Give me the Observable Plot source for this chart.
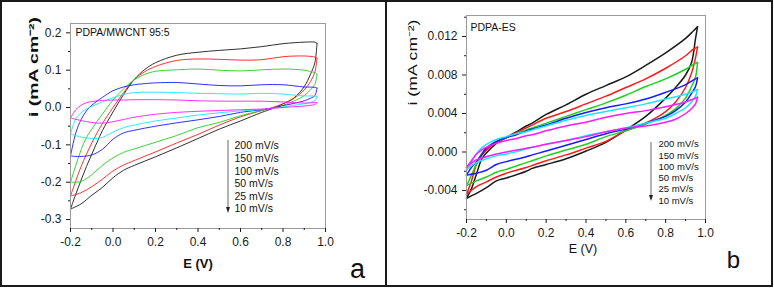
<!DOCTYPE html>
<html>
<head>
<meta charset="utf-8">
<script src="https://cdn.jsdelivr.net/npm/d3@7"></script>
<script src="https://cdn.jsdelivr.net/npm/@observablehq/plot@0.6"></script>
<style>
  html, body { margin: 0; padding: 0; background: #fff; }
  #root { position: relative; width: 774px; height: 288px; overflow: hidden; background: #fff;
          font-family: "Liberation Sans", Arial, sans-serif; }
  .box { position: absolute; box-sizing: border-box; border: 2px solid #1a1a1a; }
  .chart { position: absolute; top: 0; }
  .deco { position: absolute; top: 0; left: 0; pointer-events: none; }
</style>
</head>
<body>
<div id="root">
  <div class="box" style="left:0;top:0;width:387px;height:287px"></div>
  <div class="box" style="left:385px;top:0;width:388px;height:287px"></div>
</div>
<script>
// ---------- shared ----------
const scanRates = ["200 mV/s", "150 mV/s", "100 mV/s", "50 mV/s", "25 mV/s", "10 mV/s"];
const curveColors = ["#1a1a1a", "#ff1a1a", "#1fd11f", "#1a1aff", "#1ae6ff", "#ff1aff"];
const xMajorTicks = [-0.2, 0, 0.2, 0.4, 0.6, 0.8, 1.0];
const xMinorTicks = [-0.1, 0.1, 0.3, 0.5, 0.7, 0.9];
const xAxisTitle = "E (V)";
const yAxisTitle = "i (mA cm\u207B\u00B2)";

// ---------- panel a: PDPA/MWCNT 95:5 ----------
const titleA = "PDPA/MWCNT 95:5";
const panelLabelA = "a";
const yTicksA = [-0.3, -0.2, -0.1, 0, 0.1, 0.2];
const yMinorA = [-0.25, -0.15, -0.05, 0.05, 0.15];
const forwardEA = [-0.2, -0.175, -0.15, -0.125, -0.1, -0.075, -0.05, 0, 0.05, 0.1, 0.15, 0.2, 0.3, 0.4, 0.5, 0.6, 0.7, 0.8, 0.9, 0.95, 0.96];
const reverseEA = [0.96, 0.95, 0.93, 0.9, 0.85, 0.8, 0.75, 0.7, 0.6, 0.5, 0.4, 0.3, 0.2, 0.1, 0.05, 0, -0.05, -0.1, -0.15, -0.2];
const a200Fwd = [-0.272, -0.232, -0.194, -0.158, -0.125, -0.093, -0.062, -0.012, 0.035, 0.075, 0.102, 0.12, 0.14, 0.148, 0.153, 0.157, 0.163, 0.171, 0.175, 0.175, 0.172];
const a150Fwd = [-0.237, -0.196, -0.158, -0.125, -0.095, -0.068, -0.043, 0.0, 0.04, 0.075, 0.096, 0.11, 0.126, 0.13, 0.129, 0.127, 0.128, 0.136, 0.138, 0.135, 0.132];
const a100Fwd = [-0.2, -0.155, -0.113, -0.08, -0.058, -0.037, -0.018, 0.02, 0.05, 0.074, 0.089, 0.097, 0.101, 0.103, 0.1, 0.098, 0.101, 0.103, 0.1, 0.093, 0.089];
const a50Fwd  = [-0.13, -0.068, -0.032, -0.009, 0.006, 0.017, 0.027, 0.045, 0.055, 0.061, 0.064, 0.066, 0.067, 0.063, 0.059, 0.058, 0.061, 0.061, 0.055, 0.054, 0.052];
const a25Fwd  = [-0.071, -0.03, -0.014, -0.004, 0.003, 0.009, 0.015, 0.026, 0.035, 0.04, 0.041, 0.041, 0.04, 0.038, 0.037, 0.036, 0.038, 0.036, 0.031, 0.031, 0.03];
const a10Fwd  = [-0.028, -0.006, 0.006, 0.013, 0.016, 0.018, 0.019, 0.02, 0.02, 0.021, 0.021, 0.021, 0.02, 0.018, 0.017, 0.017, 0.017, 0.015, 0.012, 0.013, 0.013];
const a200Rev = [0.172, 0.12, 0.09, 0.056, 0.025, 0.01, -0.003, -0.013, -0.036, -0.058, -0.083, -0.108, -0.132, -0.155, -0.168, -0.188, -0.214, -0.235, -0.258, -0.272];
const a150Rev = [0.132, 0.095, 0.07, 0.047, 0.024, 0.01, 0.0, -0.008, -0.025, -0.047, -0.072, -0.095, -0.119, -0.142, -0.154, -0.17, -0.192, -0.212, -0.228, -0.237];
const a100Rev = [0.089, 0.062, 0.048, 0.032, 0.017, 0.006, -0.002, -0.008, -0.022, -0.04, -0.054, -0.075, -0.093, -0.111, -0.12, -0.135, -0.155, -0.18, -0.198, -0.2];
const a50Rev  = [0.052, 0.032, 0.025, 0.018, 0.011, 0.005, -0.002, -0.006, -0.013, -0.024, -0.033, -0.041, -0.05, -0.061, -0.068, -0.085, -0.112, -0.127, -0.131, -0.13];
const a25Rev  = [0.03, 0.018, 0.014, 0.01, 0.006, 0.001, -0.002, -0.005, -0.009, -0.014, -0.02, -0.028, -0.036, -0.047, -0.054, -0.066, -0.08, -0.083, -0.079, -0.071];
const a10Rev  = [0.013, 0.008, 0.006, 0.004, 0.002, 0.0, -0.002, -0.004, -0.006, -0.008, -0.01, -0.013, -0.018, -0.026, -0.032, -0.038, -0.042, -0.04, -0.035, -0.028];

// ---------- panel b: PDPA-ES ----------
const titleB = "PDPA-ES";
const panelLabelB = "b";
const yTicksB = [-0.004, 0, 0.004, 0.008, 0.012];
const yMinorB = [-0.006, -0.002, 0.002, 0.006, 0.010, 0.014];
const forwardEB = [-0.2, -0.175, -0.15, -0.125, -0.1, -0.05, 0, 0.05, 0.1, 0.13, 0.2, 0.3, 0.4, 0.5, 0.6, 0.7, 0.8, 0.9, 0.94, 0.96];
const reverseEB = [0.96, 0.95, 0.93, 0.9, 0.85, 0.8, 0.7, 0.6, 0.5, 0.4, 0.3, 0.2, 0.13, 0.1, 0, -0.05, -0.1, -0.15, -0.2];
const b200Fwd = [-0.0048, -0.0038, -0.0023, -0.0008, -0.0001, 0.0009, 0.0015, 0.0021, 0.0027, 0.0030, 0.0039, 0.0049, 0.0060, 0.0069, 0.0078, 0.0090, 0.0103, 0.0118, 0.0126, 0.0130];
const b150Fwd = [-0.0044, -0.0030, -0.0013, -0.0004, 0.0002, 0.0010, 0.0015, 0.0020, 0.0025, 0.0028, 0.0035, 0.0042, 0.0050, 0.0058, 0.0067, 0.0076, 0.0087, 0.0100, 0.0107, 0.0109];
const b100Fwd = [-0.0035, -0.0024, -0.0012, -0.0002, 0.0004, 0.0011, 0.0015, 0.0019, 0.0023, 0.0025, 0.0030, 0.0037, 0.0044, 0.0051, 0.0059, 0.0068, 0.0076, 0.0086, 0.0091, 0.0093];
const b50Fwd  = [-0.0024, -0.0016, -0.0010, -0.0003, 0.0004, 0.0011, 0.0015, 0.0018, 0.0022, 0.0024, 0.0028, 0.0035, 0.0041, 0.0046, 0.0050, 0.0055, 0.0062, 0.0070, 0.0075, 0.0077];
const b25Fwd  = [-0.0019, -0.0010, -0.0002, 0.0004, 0.0008, 0.0013, 0.0016, 0.0019, 0.0021, 0.0023, 0.0027, 0.0033, 0.0038, 0.0042, 0.0046, 0.0050, 0.0055, 0.0060, 0.0063, 0.0065];
const b10Fwd  = [-0.0016, -0.0009, -0.0002, 0.0002, 0.0005, 0.0009, 0.0012, 0.0014, 0.0017, 0.0018, 0.0022, 0.0027, 0.0031, 0.0036, 0.0040, 0.0043, 0.0047, 0.0052, 0.0055, 0.0057];
const b200Rev = [0.0130, 0.0118, 0.0093, 0.0080, 0.0067, 0.0056, 0.0037, 0.0023, 0.0010, 0.0001, -0.0007, -0.0013, -0.0017, -0.0020, -0.0027, -0.0030, -0.0037, -0.0043, -0.0048];
const b150Rev = [0.0109, 0.0098, 0.0082, 0.0067, 0.0052, 0.0042, 0.0030, 0.0022, 0.0011, 0.0004, -0.0003, -0.0009, -0.0014, -0.0016, -0.0022, -0.0026, -0.0031, -0.0036, -0.0044];
const b100Rev = [0.0093, 0.0078, 0.0068, 0.0056, 0.0045, 0.0038, 0.0029, 0.0022, 0.0016, 0.0008, 0.0002, -0.0004, -0.0009, -0.0011, -0.0018, -0.0021, -0.0026, -0.0030, -0.0035];
const b50Rev  = [0.0077, 0.0068, 0.0061, 0.0052, 0.0043, 0.0037, 0.0030, 0.0024, 0.0019, 0.0013, 0.0007, 0.0001, -0.0003, -0.0005, -0.0010, -0.0013, -0.0019, -0.0022, -0.0024];
const b25Rev  = [0.0065, 0.0058, 0.0052, 0.0046, 0.0040, 0.0035, 0.0030, 0.0025, 0.0021, 0.0017, 0.0012, 0.0008, 0.0005, 0.0003, -0.0002, -0.0004, -0.0007, -0.0011, -0.0018];
const b10Rev  = [0.0057, 0.0050, 0.0045, 0.0040, 0.0034, 0.0031, 0.0027, 0.0025, 0.0021, 0.0016, 0.0012, 0.0008, 0.0005, 0.0004, 0.0000, -0.0002, -0.0005, -0.0008, -0.0016];

// ---------- build tables ----------
function buildRows(fwdE, revE, fwdSeries, revSeries) {
  const rows = [];
  scanRates.forEach((rate, k) => {
    fwdE.forEach((E, j) => rows.push({rate, key: rate + "-fwd", E, i: fwdSeries[k][j]}));
    revE.forEach((E, j) => rows.push({rate, key: rate + "-rev", E, i: revSeries[k][j]}));
  });
  return rows;
}
const rowsA = buildRows(forwardEA, reverseEA,
  [a200Fwd, a150Fwd, a100Fwd, a50Fwd, a25Fwd, a10Fwd],
  [a200Rev, a150Rev, a100Rev, a50Rev, a25Rev, a10Rev]);
const rowsB = buildRows(forwardEB, reverseEB,
  [b200Fwd, b150Fwd, b100Fwd, b50Fwd, b25Fwd, b10Fwd],
  [b200Rev, b150Rev, b100Rev, b50Rev, b25Rev, b10Rev]);

function makePanel(o) {
  const svg = Plot.plot({
    width: o.width, height: 288,
    marginLeft: o.ml, marginRight: o.mr, marginTop: o.mt, marginBottom: o.mb,
    style: {background: "transparent", overflow: "visible", fontFamily: "'Liberation Sans', Arial, sans-serif"},
    x: {domain: [-0.2, 1.0], label: null},
    y: {domain: o.yDomain, label: null},
    color: {domain: scanRates, range: curveColors},
    marks: [
      Plot.line(o.rows, {x: "E", y: "i", z: "key", stroke: "rate", strokeWidth: o.sw, curve: "catmull-rom"}),
      Plot.frame({stroke: "#9a9a9a", strokeWidth: 1}),
      Plot.axisX({ticks: xMajorTicks, tickSize: 4, tickFormat: d => d.toFixed(1), fontSize: 12, label: null, color: "#1a1a1a"}),
      Plot.axisX({ticks: xMinorTicks, tickSize: 2, text: null, label: null, color: "#1a1a1a"}),
      Plot.axisY({ticks: o.yTicks, tickSize: 4, tickFormat: o.yFormat, fontSize: 12, label: null, color: "#1a1a1a"}),
      Plot.axisY({ticks: o.yMinor, tickSize: 2, text: null, label: null, color: "#1a1a1a"}),
      Plot.text([o.title], {text: d => d, frameAnchor: "top-left", textAnchor: "start", lineAnchor: "top", dx: o.titleDx, dy: o.titleDy, fontSize: 10.5, fill: "#111"}),
      Plot.text([xAxisTitle], {text: d => d, frameAnchor: "bottom", lineAnchor: "middle", dx: o.xtDx, dy: o.xtDy, fontSize: o.axFs, fontWeight: o.axFw, fill: "#111"}),
      Plot.text([yAxisTitle], {text: d => d, frameAnchor: "left", lineAnchor: "middle", rotate: -90, dx: o.ytDx, dy: o.ytDy, fontSize: o.axFs, fontWeight: o.axFw, fill: "#111"}),
      Plot.text([scanRates.join("\n")], {text: d => d, frameAnchor: "top-left", textAnchor: "start", lineAnchor: "top", dx: o.lgDx, dy: o.lgDy, fontSize: o.lgFs, lineHeight: o.lgLh, fill: "#111"}),
      Plot.text([o.label], {text: d => d, frameAnchor: "bottom-right", textAnchor: "middle", lineAnchor: "bottom", dx: o.lbDx, dy: o.lbDy, fontSize: o.lbFs, fill: "#111"})
    ]
  });
  // the original's y title is drawn stretched along its length
  svg.querySelectorAll("text").forEach(t => {
    if (t.textContent === yAxisTitle) {
      t.setAttribute("textLength", o.ytLen);
      t.setAttribute("lengthAdjust", "spacingAndGlyphs");
    }
  });
  return svg;
}

const root = document.getElementById("root");

const chartA = makePanel({
  rows: rowsA, width: 386, ml: 70, mr: 61, mt: 23, mb: 60,
  yDomain: [-0.324, 0.225], yTicks: yTicksA, yMinor: yMinorA, yFormat: d => d.toFixed(1), sw: 0.9,
  title: titleA, titleDx: 5, titleDy: 5,
  xtDx: 0, xtDy: 35, ytDx: -37, ytDy: -9, ytLen: 100, axFs: 13, axFw: "bold",
  lgDx: 164, lgDy: 117, lgFs: 10.5, lgLh: 1.2,
  label: panelLabelA, lbDx: 32, lbDy: 49, lbFs: 27
});
chartA.classList.add("chart");
chartA.style.left = "0px";
root.appendChild(chartA);

const chartB = makePanel({
  rows: rowsB, width: 388, ml: 80, mr: 69, mt: 15, mb: 69,
  yDomain: [-0.00701, 0.01418], yTicks: yTicksB, yMinor: yMinorB, yFormat: d => d.toFixed(3), sw: 1.5,
  title: titleB, titleDx: 4, titleDy: 8,
  xtDx: -3, xtDy: 29, ytDx: -54, ytDy: -12, ytLen: 86, axFs: 12.5, axFw: "normal",
  lgDx: 192, lgDy: 124, lgFs: 9.5, lgLh: 1.18,
  label: panelLabelB, lbDx: 28, lbDy: 48, lbFs: 24
});
chartB.classList.add("chart");
chartB.style.left = "386px";
root.appendChild(chartB);

// legend arrows (decoration beside the legend text)
const ns = "http://www.w3.org/2000/svg";
const deco = document.createElementNS(ns, "svg");
deco.setAttribute("class", "deco");
deco.setAttribute("width", 774);
deco.setAttribute("height", 288);
[[228, 140, 213], [651, 142, 201]].forEach(([x, y0, y1]) => {
  const l = document.createElementNS(ns, "line");
  l.setAttribute("x1", x); l.setAttribute("x2", x);
  l.setAttribute("y1", y0); l.setAttribute("y2", y1 - 5);
  l.setAttribute("stroke", "#666"); l.setAttribute("stroke-width", 1);
  deco.appendChild(l);
  const p = document.createElementNS(ns, "path");
  p.setAttribute("d", `M${x - 2},${y1 - 6}L${x + 2},${y1 - 6}L${x},${y1}Z`);
  p.setAttribute("fill", "#222");
  deco.appendChild(p);
});
root.appendChild(deco);
</script>
</body>
</html>
